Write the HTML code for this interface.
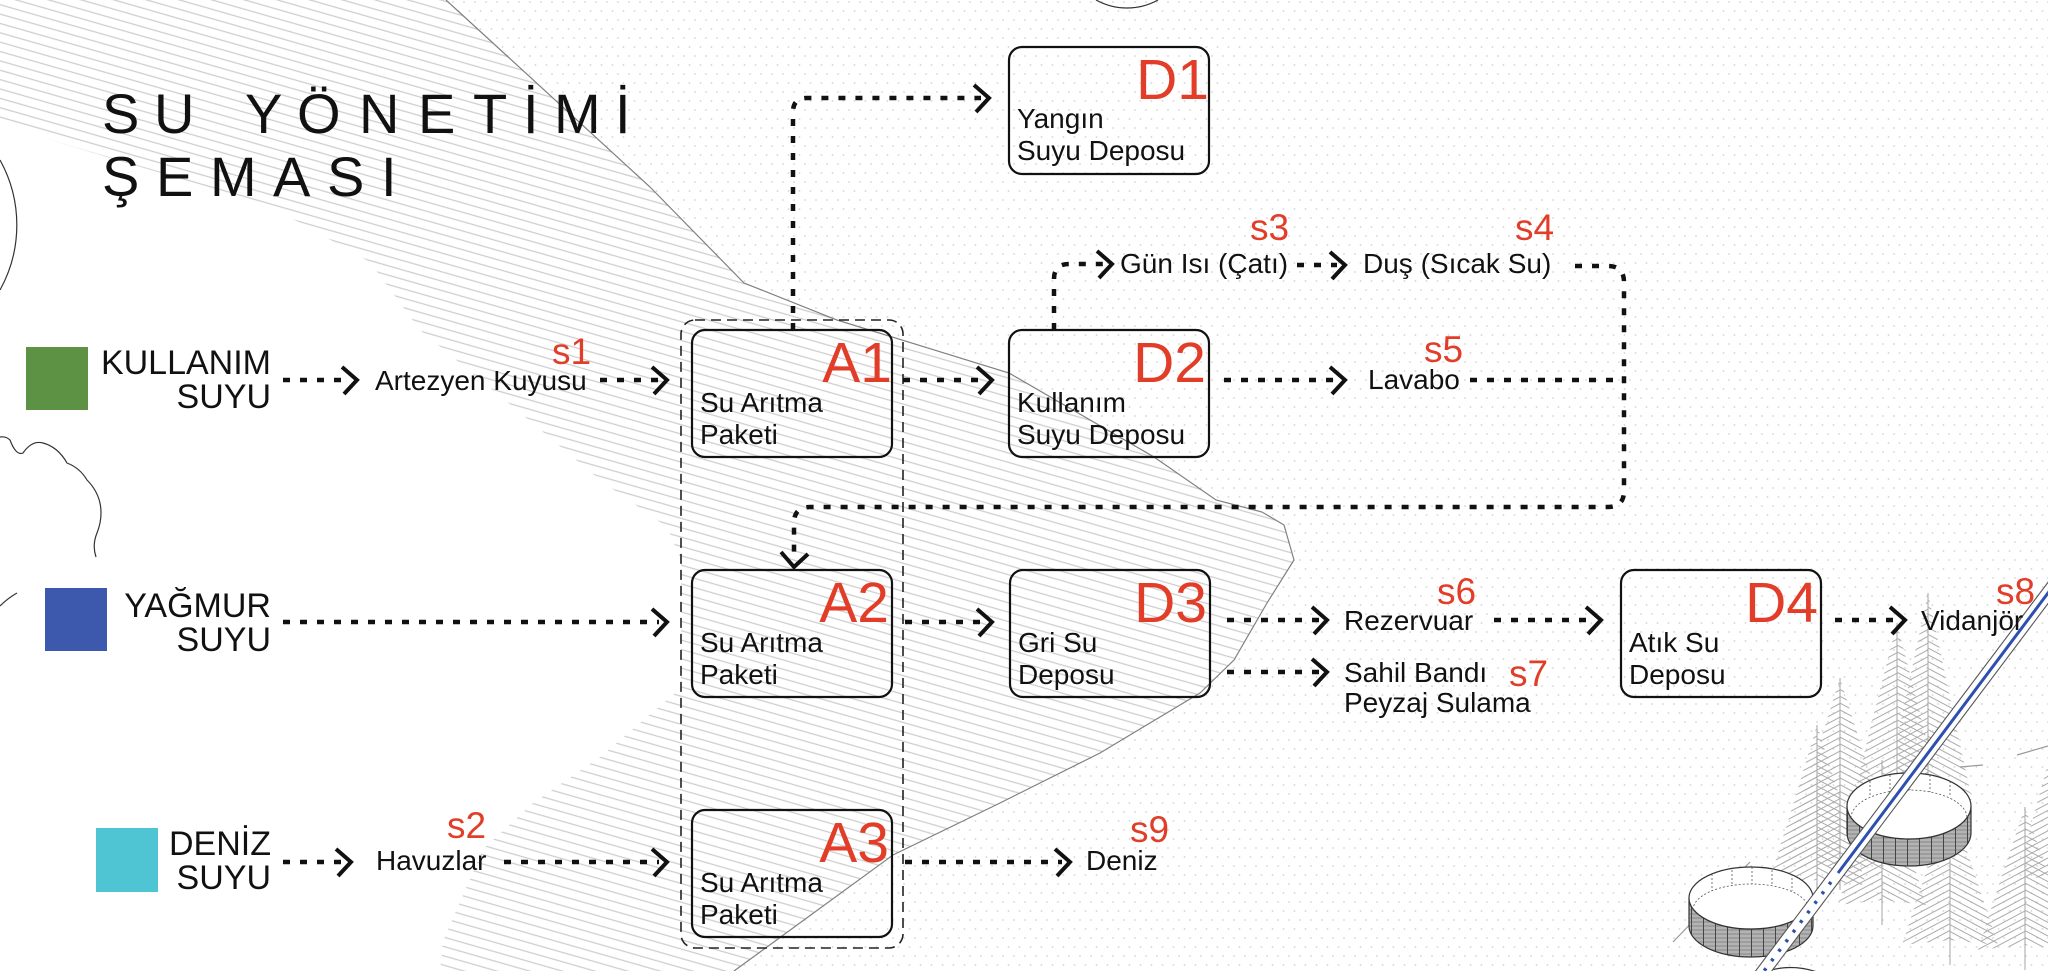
<!DOCTYPE html>
<html>
<head>
<meta charset="utf-8">
<style>
html,body{margin:0;padding:0;background:#fff;}
body{width:2048px;height:971px;overflow:hidden;}
svg{display:block;}
</style>
</head>
<body>
<svg width="2048" height="971" viewBox="0 0 2048 971" xmlns="http://www.w3.org/2000/svg" font-family="'Liberation Sans', Arial, sans-serif">
<defs>
  <pattern id="hatch" width="40" height="9" patternUnits="userSpaceOnUse" patternTransform="rotate(16)">
    <line x1="0" y1="4.5" x2="40" y2="4.5" stroke="#cdcdcd" stroke-width="1.15"/>
  </pattern>
  <pattern id="dots" width="11" height="18" patternUnits="userSpaceOnUse">
    <circle cx="2" cy="2" r="0.9" fill="#d4d4d4"/>
    <circle cx="7.5" cy="11" r="0.9" fill="#d4d4d4"/>
  </pattern>
  <pattern id="brR" width="30" height="6" patternUnits="userSpaceOnUse" patternTransform="rotate(28)">
    <line x1="0" y1="3" x2="30" y2="3" stroke="#ababab" stroke-width="0.9"/>
  </pattern>
  <pattern id="brL" width="30" height="6" patternUnits="userSpaceOnUse" patternTransform="rotate(-28)">
    <line x1="0" y1="3" x2="30" y2="3" stroke="#ababab" stroke-width="0.9"/>
  </pattern>
  <pattern id="wall" width="12" height="4" patternUnits="userSpaceOnUse">
    <rect width="12" height="4" fill="#b3b3b3"/>
    <line x1="0" y1="2" x2="12" y2="2" stroke="#7c7c7c" stroke-width="0.8"/>
    <line x1="11.5" y1="0" x2="11.5" y2="4" stroke="#444" stroke-width="1"/>
  </pattern>
</defs>

<rect width="2048" height="971" fill="#fff"/>

<!-- dotted background region -->
<polygon fill="url(#dots)" points="446,0 650,187 744,283 837,320 1009,373 1154,457 1216,500 1262,512 1284,525 1294,560 1267,603 1234,660 1200,693 1100,753 1000,803 893,855 734,971 2048,971 2048,0"/>

<!-- hatched band -->
<polygon fill="url(#hatch)" points="0,0 446,0 650,187 744,283 837,320 1009,373 1154,457 1216,500 1262,512 1284,525 1294,560 1267,603 1234,660 1200,693 1100,753 1000,803 893,855 734,971 440,971 443,941 483,849 533,803 600,757 681,688 681,560 667,527 600,480 517,410 420,330 370,262 268,205 0,125"/>

<!-- boundary line -->
<polyline fill="none" stroke="#808080" stroke-width="1.2" points="446,0 650,187 744,283 837,320 1009,373 1154,457 1216,500 1262,512 1284,525 1294,560 1267,603 1234,660 1200,693 1100,753 1000,803 893,855 734,971"/>

<!-- left decorations -->
<g fill="none" stroke="#333" stroke-width="1.2">
  <path d="M0,160 A134,134 0 0 1 0,290"/>
  <path d="M0,437 Q6,436 10,440 Q16,456 23,453 Q32,440 43,443 Q58,447 67,463 Q80,468 87,480 Q97,490 100,503 Q103,518 97,533 Q92,545 96,557"/>
  <path d="M0,606 Q8,598 17,593"/>
  <path d="M1096,0 A64,64 0 0 0 1158,0"/>
</g>

<!-- trees -->
<g stroke="#a5a5a5" stroke-width="1">
  <line x1="1928" y1="593" x2="1928" y2="820"/>
  <line x1="1897" y1="623" x2="1897" y2="855"/>
  <line x1="1840" y1="678" x2="1840" y2="890"/>
  <line x1="1817" y1="725" x2="1817" y2="905"/>
  <line x1="1882" y1="760" x2="1882" y2="925"/>
  <line x1="1950" y1="800" x2="1950" y2="965"/>
  <line x1="2025" y1="807" x2="2025" y2="970"/>
  <line x1="2060" y1="720" x2="2060" y2="900"/>
</g>
<g stroke="none">
  <polygon fill="url(#brL)" points="1928,593 1906,697 1884,800 1928,795"/>
  <polygon fill="url(#brR)" points="1928,593 1950,697 1972,800 1928,795"/>
  <polygon fill="url(#brL)" points="1897,623 1870,729 1845,835 1897,830"/>
  <polygon fill="url(#brR)" points="1897,623 1924,729 1950,835 1897,830"/>
  <polygon fill="url(#brL)" points="1840,678 1810,774 1780,870 1840,865"/>
  <polygon fill="url(#brR)" points="1840,678 1870,774 1900,870 1840,865"/>
  <polygon fill="url(#brL)" points="1817,725 1793,805 1768,885 1817,880"/>
  <polygon fill="url(#brR)" points="1817,725 1842,805 1866,885 1817,880"/>
  <polygon fill="url(#brL)" points="1882,760 1860,832 1838,905 1882,900"/>
  <polygon fill="url(#brR)" points="1882,760 1904,832 1926,905 1882,900"/>
  <polygon fill="url(#brL)" points="1950,800 1926,872 1902,945 1950,940"/>
  <polygon fill="url(#brR)" points="1950,800 1974,872 1998,945 1950,940"/>
  <polygon fill="url(#brL)" points="2025,807 2001,878 1978,950 2025,945"/>
  <polygon fill="url(#brR)" points="2025,807 2049,878 2072,950 2025,945"/>
  <polygon fill="url(#brL)" points="2060,720 2038,800 2016,880 2060,875"/>
</g>
<g stroke="#9a9a9a" stroke-width="1.2" fill="none">
  <line x1="1960" y1="767" x2="1983" y2="765"/>
  <line x1="2017" y1="755" x2="2048" y2="746"/>
  <line x1="1673" y1="942" x2="1750" y2="862"/>
</g>

<!-- tanks -->
<g stroke="#333" stroke-width="1.2">
  <path d="M1847,806 A62,33 0 0 0 1971,806 L1971,833 A62,33 0 0 1 1847,833 Z" fill="url(#wall)"/>
  <ellipse cx="1909" cy="806" rx="62" ry="33" fill="#fff"/>
  <path d="M1689,898 A62,31 0 0 0 1813,898 L1813,926 A62,31 0 0 1 1689,926 Z" fill="url(#wall)"/>
  <ellipse cx="1751" cy="898" rx="62" ry="31" fill="#fff"/>
  <path d="M1757,975 Q1790,960 1825,975" fill="none"/>
</g>
<g stroke="#555" stroke-width="0.8" stroke-dasharray="2 2" fill="none">
  <path d="M1851,818 A58,28 0 0 1 1967,818"/>
  <line x1="1870" y1="781" x2="1870" y2="797"/>
  <line x1="1890" y1="775" x2="1890" y2="792"/>
  <line x1="1910" y1="773" x2="1910" y2="790"/>
  <line x1="1930" y1="775" x2="1930" y2="792"/>
  <line x1="1950" y1="781" x2="1950" y2="797"/>
  <path d="M1693,910 A58,26 0 0 1 1809,910"/>
  <line x1="1712" y1="874" x2="1712" y2="891"/>
  <line x1="1732" y1="870" x2="1732" y2="886"/>
  <line x1="1752" y1="867" x2="1752" y2="884"/>
  <line x1="1772" y1="870" x2="1772" y2="886"/>
  <line x1="1792" y1="874" x2="1792" y2="891"/>
</g>

<!-- pipe -->
<polygon points="2068,577 1756,992 1745,985 2058,569" fill="#fff" stroke="none"/>
<line x1="2068" y1="577" x2="1756" y2="992" stroke="#555" stroke-width="1.1"/>
<line x1="2058" y1="569" x2="1745" y2="985" stroke="#555" stroke-width="1.1"/>
<line x1="2054" y1="585" x2="1838" y2="873" stroke="#2d4fb0" stroke-width="3"/>
<line x1="1831" y1="882" x2="1764" y2="971" stroke="#2d4fb0" stroke-width="3.5" stroke-dasharray="3 9"/>

<!-- outer dashed group -->
<rect x="681" y="320" width="222" height="628" rx="14" fill="none" stroke="#222" stroke-width="1.6" stroke-dasharray="10 6"/>

<!-- connectors -->
<g fill="none" stroke="#111" stroke-width="4.5" stroke-dasharray="7 10">
  <path d="M283,380 H349"/>
  <path d="M600,380 H659"/>
  <path d="M903,380 H984"/>
  <path d="M793,330 V112 Q793,98 807,98 H981"/>
  <path d="M1054,330 V279 Q1054,264 1069,264 H1104"/>
  <path d="M1297,265 H1337"/>
  <path d="M1575,266 H1608 Q1624,266 1624,282 V491 Q1624,507 1608,507 H810 Q794,507 794,523 V559"/>
  <path d="M1470,380 H1624"/>
  <path d="M1224,380 H1337"/>
  <path d="M283,622 H659"/>
  <path d="M905,622 H984"/>
  <path d="M1227,620 H1319"/>
  <path d="M1494,620 H1593"/>
  <path d="M1835,620 H1897"/>
  <path d="M1227,672 H1319"/>
  <path d="M283,862 H343"/>
  <path d="M504,862 H659"/>
  <path d="M905,862 H1062"/>
</g>
<g fill="none" stroke="#111" stroke-width="4" stroke-linejoin="miter">
  <path d="M342,367 L357,380 L344,394"/>
  <path d="M652,367 L667,380 L654,394"/>
  <path d="M977,367 L992,380 L979,394"/>
  <path d="M974,85 L989,98 L976,112"/>
  <path d="M1097,251 L1112,264 L1099,278"/>
  <path d="M1330,252 L1345,265 L1332,279"/>
  <path d="M781,552 L794,567 L808,554"/>
  <path d="M1330,367 L1345,380 L1332,394"/>
  <path d="M652,609 L667,622 L654,636"/>
  <path d="M977,609 L992,622 L979,636"/>
  <path d="M1312,607 L1327,620 L1314,634"/>
  <path d="M1586,607 L1601,620 L1588,634"/>
  <path d="M1890,607 L1905,620 L1892,634"/>
  <path d="M1312,659 L1327,672 L1314,686"/>
  <path d="M336,849 L351,862 L338,876"/>
  <path d="M652,849 L667,862 L654,876"/>
  <path d="M1055,849 L1070,862 L1057,876"/>
</g>

<!-- boxes -->
<g fill="none" stroke="#111" stroke-width="2.2">
  <rect x="1009" y="47" width="200" height="127" rx="13"/>
  <rect x="692" y="330" width="200" height="127" rx="13"/>
  <rect x="1009" y="330" width="200" height="127" rx="13"/>
  <rect x="692" y="570" width="200" height="127" rx="13"/>
  <rect x="1010" y="570" width="200" height="127" rx="13"/>
  <rect x="1621" y="570" width="200" height="127" rx="13"/>
  <rect x="692" y="810" width="200" height="127" rx="13"/>
</g>

<!-- source squares -->
<rect x="26" y="347" width="62" height="63" fill="#5d9143"/>
<rect x="45" y="588" width="62" height="63" fill="#3c59ad"/>
<rect x="96" y="828" width="62" height="64" fill="#4fc4d2"/>

<!-- title -->
<g font-size="56" fill="#111">
  <text x="102 154 245 297 359 418 473 523 554 615" y="133">SUYÖNETİMİ</text>
  <text x="102 156 210 273 327 381" y="196">ŞEMASI</text>
</g>

<!-- source labels -->
<g font-size="34" fill="#111" text-anchor="end">
  <text x="271" y="374">KULLANIM</text>
  <text x="271" y="408">SUYU</text>
  <text x="271" y="617">YAĞMUR</text>
  <text x="271" y="651">SUYU</text>
  <text x="271" y="855">DENİZ</text>
  <text x="271" y="889">SUYU</text>
</g>

<!-- box texts -->
<g font-size="28" fill="#111">
  <text x="1017" y="128">Yangın</text>
  <text x="1017" y="160">Suyu Deposu</text>
  <text x="700" y="412">Su Arıtma</text>
  <text x="700" y="444">Paketi</text>
  <text x="1017" y="412">Kullanım</text>
  <text x="1017" y="444">Suyu Deposu</text>
  <text x="700" y="652">Su Arıtma</text>
  <text x="700" y="684">Paketi</text>
  <text x="1018" y="652">Gri Su</text>
  <text x="1018" y="684">Deposu</text>
  <text x="1629" y="652">Atık Su</text>
  <text x="1629" y="684">Deposu</text>
  <text x="700" y="892">Su Arıtma</text>
  <text x="700" y="924">Paketi</text>

  <text x="375" y="390">Artezyen Kuyusu</text>
  <text x="376" y="870">Havuzlar</text>
  <text x="1120" y="273">Gün Isı (Çatı)</text>
  <text x="1363" y="273">Duş (Sıcak Su)</text>
  <text x="1368" y="389">Lavabo</text>
  <text x="1344" y="630">Rezervuar</text>
  <text x="1344" y="682">Sahil Bandı</text>
  <text x="1344" y="712">Peyzaj Sulama</text>
  <text x="1921" y="630">Vidanjör</text>
  <text x="1086" y="870">Deniz</text>
</g>

<!-- red codes -->
<g font-size="57" fill="#e23d28" text-anchor="end">
  <text x="1209" y="99">D1</text>
  <text x="892" y="382">A1</text>
  <text x="1206" y="382">D2</text>
  <text x="889" y="622">A2</text>
  <text x="1207" y="622">D3</text>
  <text x="1818" y="622">D4</text>
  <text x="889" y="862">A3</text>
</g>
<g font-size="37" fill="#e23d28">
  <text x="552" y="364">s1</text>
  <text x="447" y="838">s2</text>
  <text x="1250" y="240">s3</text>
  <text x="1515" y="240">s4</text>
  <text x="1424" y="362">s5</text>
  <text x="1437" y="604">s6</text>
  <text x="1509" y="686">s7</text>
  <text x="1996" y="604">s8</text>
  <text x="1130" y="842">s9</text>
</g>
</svg>
</body>
</html>
